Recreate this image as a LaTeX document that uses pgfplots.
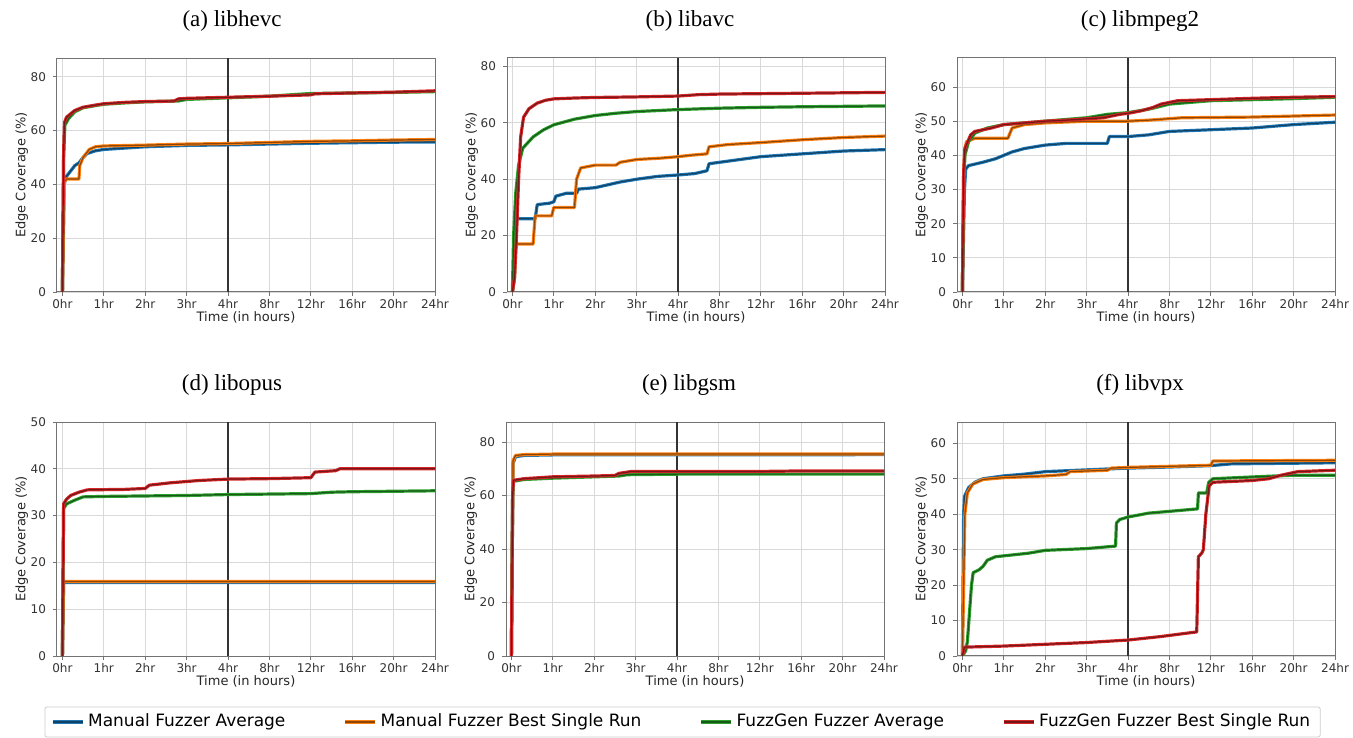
\documentclass[border=0pt]{standalone}
\usepackage{pgfplots}
\pgfplotsset{compat=1.18}
\usepackage{fontspec}
\setmainfont{Liberation Serif}
\newfontfamily\dvs{DejaVu Sans}
\definecolor{cB}{HTML}{1F77B4}
\definecolor{cO}{HTML}{FF7F0E}
\definecolor{cG}{HTML}{2CA02C}
\definecolor{cR}{HTML}{D62728}
\pgfplotsset{
  sB/.style={draw=cB!55!black, line width=0.6pt, line join=round, preaction={draw=cB, line width=1.6pt}},
  sO/.style={draw=cO!55!black, line width=0.6pt, line join=round, preaction={draw=cO, line width=1.6pt}},
  sG/.style={draw=cG!55!black, line width=0.6pt, line join=round, preaction={draw=cG, line width=1.6pt}},
  sR/.style={draw=cR!55!black, line width=0.6pt, line join=round, preaction={draw=cR, line width=1.6pt}},
  sub/.style={
    scale only axis, width=189pt, height=117pt, anchor=south west,
    xmin=-0.13, xmax=9, ymin=0,
    xtick={0,...,9},
    xticklabels={0hr,1hr,2hr,3hr,4hr,8hr,12hr,16hr,20hr,24hr},
    grid=major, major grid style={black!15, line width=0.4pt},
    axis line style={black!55, line width=0.5pt},
    tick style={black!55, line width=0.4pt}, tick align=outside, major tick length=2pt,
    xtick pos=bottom, ytick pos=left,
    tick label style={font=\dvs\fontsize{6}{7}\selectfont, text=black!80},
    xticklabel style={yshift=2pt},
    /pgf/number format/assume math mode=true,
    xlabel={Time (in hours)}, ylabel={Edge Coverage (\%)},
    label style={font=\dvs\fontsize{6.5}{7.5}\selectfont, text=black!85},
    xlabel style={at={(axis description cs:0.5,-0.107)}, anchor=center},
    ylabel style={at={(axis description cs:-0.093,0.5)}, anchor=center},
    title style={font=\fontsize{11.5}{13}\selectfont, at={(axis description cs:0.5,1)}, anchor=center, yshift=12.5pt, xshift=-3pt},
    legend image code/.code={\draw[#1] (0pt,0pt) -- (15pt,0pt);},
  },
}
\newcommand{\fourhr}[1]{\addplot[black!80, line width=0.9pt, forget plot] coordinates {(4,0) (4,#1)};}
\begin{document}
\begin{tikzpicture}
\path[use as bounding box] (0,0) rectangle (676.5pt,369pt);
% (a) libhevc
\begin{axis}[sub, at={(28.5pt,223pt)}, ymax=87, ytick={0,20,40,60,80}, title={(a) libhevc}, title style={xshift=-4pt}]
\fourhr{87}
\addplot[sB] coordinates {(0,0) (0.04,40) (0.1,43) (0.2,45) (0.3,47) (0.4,48) (0.5,50) (0.6,51.5) (0.8,52.5) (1.0,53) (1.5,53.5) (2,54) (3,54.5) (4,54.7) (5,55) (6,55.3) (7,55.5) (8,55.7) (9,55.8)};
\addplot[sO] coordinates {(0,0) (0.05,41) (0.1,42) (0.4,42) (0.42,47) (0.5,50) (0.6,52) (0.65,53) (0.8,54) (1,54.3) (2,54.6) (3,55) (4,55.2) (5,55.6) (6,56) (7,56.2) (8,56.5) (9,56.7)};
\addplot[sG] coordinates {(0,0) (0.03,50) (0.06,62) (0.15,64.5) (0.3,67) (0.5,68.5) (0.8,69.3) (1,69.8) (1.5,70.3) (2,70.7) (2.8,71) (3,71.6) (4,72.2) (5,72.8) (5.5,73.3) (6,73.8) (7,74) (8,74.2) (9,74.5)};
\addplot[sR] coordinates {(0,0) (0.03,52) (0.05,63) (0.1,65) (0.3,67.5) (0.5,68.7) (0.8,69.5) (1,70) (1.5,70.5) (2,70.8) (2.7,71) (2.8,71.8) (3,72) (4,72.4) (5,72.8) (6,73.3) (6.1,73.7) (7,74) (8,74.3) (9,74.8)};
\end{axis}
% (b) libavc
\begin{axis}[sub, at={(253.5pt,223pt)}, ymax=83, ytick={0,20,40,60,80}, title={(b) libavc}]
\fourhr{83}
\addplot[sB] coordinates {(0,0) (0.05,5) (0.1,26) (0.55,26) (0.6,31) (0.9,31.5) (1.0,32) (1.05,34) (1.3,35) (1.55,35) (1.6,36.5) (2,37) (2.3,38) (2.6,39) (3,40) (3.5,41) (4,41.5) (4.4,42) (4.7,43) (4.75,45.5) (5,46) (5.5,47) (6,48) (7,49) (8,50) (9,50.5)};
\addplot[sO] coordinates {(0,0) (0.05,5) (0.09,17) (0.5,17) (0.55,27) (0.95,27) (1.0,30) (1.5,30) (1.55,40) (1.65,44) (2,45) (2.5,45) (2.6,46) (3,47) (3.6,47.5) (4,48) (4.3,48.5) (4.7,49) (4.75,51.5) (5.2,52.3) (6,53) (7,54) (8,54.8) (9,55.3)};
\addplot[sG] coordinates {(0,0) (0.03,20) (0.08,35) (0.15,45) (0.25,51) (0.5,55) (0.75,57.5) (1,59.3) (1.5,61.3) (2,62.6) (2.5,63.4) (3,64) (4,64.7) (5,65.2) (6,65.5) (7,65.7) (9,66)};
\addplot[sR] coordinates {(0,0) (0.05,5) (0.1,20) (0.15,40) (0.2,55) (0.27,62) (0.4,65) (0.6,67) (0.8,68) (1,68.5) (1.5,68.8) (2,69) (3,69.2) (4,69.5) (4.5,70) (5,70.2) (7,70.5) (9,70.8)};
\end{axis}
% (c) libmpeg2
\begin{axis}[sub, at={(478.5pt,223pt)}, ymax=68.5, ytick={0,10,...,60}, title={(c) libmpeg2}]
\fourhr{68.5}
\addplot[sB] coordinates {(0,0) (0.05,30) (0.08,36) (0.15,37) (0.5,38) (0.8,39) (1.0,40) (1.2,41) (1.5,42) (2,43) (2.5,43.5) (3.5,43.5) (3.55,45.5) (4,45.5) (4.5,46) (5,47) (6,47.5) (7,48) (8,49) (9,49.7)};
\addplot[sO] coordinates {(0,0) (0.03,35) (0.06,42) (0.1,44) (0.3,45) (1.1,45) (1.2,48) (1.5,49) (2,49.5) (3,50) (4,50) (4.5,50.3) (5.3,51) (7,51.2) (8,51.5) (9,51.8)};
\addplot[sG] coordinates {(0,0) (0.03,30) (0.06,40) (0.15,44) (0.3,46.5) (0.6,48) (1,49) (1.5,49.5) (2,50) (3,51) (3.5,52) (4,52.5) (4.5,53.5) (5,55) (5.5,55.5) (6,56) (7,56.3) (8,56.6) (9,57)};
\addplot[sR] coordinates {(0,0) (0.03,35) (0.06,42) (0.2,46) (0.3,47) (0.7,48) (1,49) (1.5,49.5) (2,50) (2.5,50.3) (3.4,51) (3.8,52) (4,52.3) (4.3,53) (4.6,54) (4.8,55) (5.2,56) (6,56.3) (7,56.7) (8,57) (9,57.2)};
\end{axis}
% (d) libopus
\begin{axis}[sub, at={(28.5pt,41pt)}, ymax=50, ytick={0,10,...,50}, title={(d) libopus}, title style={xshift=-4pt}]
\fourhr{50}
\addplot[sB] coordinates {(0,0) (0.03,15.7) (9,15.7)};
\addplot[sO] coordinates {(0,0) (0.03,15.9) (9,15.9)};
\addplot[sG] coordinates {(0,0) (0.03,31.5) (0.1,32.5) (0.3,33.3) (0.5,34) (1,34.1) (2,34.2) (3,34.3) (4,34.5) (5,34.6) (6,34.7) (6.5,35) (7,35.1) (9,35.3)};
\addplot[sR] coordinates {(0,0) (0.03,32.5) (0.1,33.5) (0.2,34.3) (0.4,35) (0.6,35.5) (1.5,35.6) (2,35.8) (2.1,36.5) (2.6,37) (3.3,37.5) (4,37.8) (5,37.9) (6,38.1) (6.1,39.3) (6.6,39.6) (6.7,40) (9,40)};
\end{axis}
% (e) libgsm
\begin{axis}[sub, at={(253pt,41pt)}, ymax=87.5, ytick={0,20,40,60,80}, title={(e) libgsm},
  legend columns=4, legend cell align=left,
  legend style={at={(axis description cs:0.467,-0.282)}, anchor=center, draw=black!20, rounded corners=1pt,
    font=\dvs\fontsize{8.5}{10}\selectfont, inner xsep=3pt, inner ysep=1.5pt,
    /tikz/every even column/.append style={column sep=27pt}}]
\fourhr{87.5}
\addplot[sB] coordinates {(0,0) (0.04,72) (0.1,74.5) (0.3,75) (1,75.2) (9,75.3)};
\addlegendentry{Manual Fuzzer Average}
\addplot[sO] coordinates {(0,0) (0.04,73) (0.1,75) (0.3,75.3) (1,75.5) (9,75.5)};
\addlegendentry{Manual Fuzzer Best Single Run}
\addplot[sG] coordinates {(0,0) (0.03,60) (0.05,65.3) (0.3,66) (1,66.5) (2,67) (2.6,67.3) (2.8,67.8) (4,68) (9,68)};
\addlegendentry{FuzzGen Fuzzer Average}
\addplot[sR] coordinates {(0,0) (0.03,60) (0.05,65.7) (0.3,66.3) (1,67) (2,67.3) (2.5,67.5) (2.6,68.3) (2.9,69) (6,69) (7,69.2) (9,69.2)};
\addlegendentry{FuzzGen Fuzzer Best Single Run}
\end{axis}
% (f) libvpx
\begin{axis}[sub, at={(478.5pt,41pt)}, ymax=66, ytick={0,10,...,60}, title={(f) libvpx}]
\fourhr{66}
\addplot[sB] coordinates {(0,0) (0.03,40) (0.05,45) (0.15,47.5) (0.3,49) (0.5,50) (1,50.8) (1.5,51.3) (2,52) (3,52.5) (4,53) (5,53.3) (6,53.7) (6.5,54.2) (9,54.5)};
\addplot[sO] coordinates {(0,0) (0.03,20) (0.06,40) (0.12,46) (0.25,48.5) (0.5,49.8) (1,50.3) (2,50.8) (2.5,51.2) (2.6,52) (3.5,52.4) (3.6,53) (4,53.2) (6,53.8) (6.05,55) (9,55.2)};
\addplot[sG] coordinates {(0,0) (0.08,1.5) (0.12,4) (0.17,12) (0.22,20) (0.26,23.5) (0.4,24.3) (0.5,25.3) (0.6,27) (0.8,28) (1.2,28.5) (1.6,29) (2,29.8) (3,30.3) (3.7,31) (3.72,37.5) (3.8,38.5) (4,39.2) (4.5,40.3) (5,40.8) (5.68,41.5) (5.7,46) (5.9,46) (5.95,49) (6.05,50) (7,50.5) (8,51) (9,51)};
\addplot[sR] coordinates {(0,0) (0.05,2.5) (1,2.8) (2,3.3) (3,3.8) (4,4.5) (4.8,5.5) (5.66,6.8) (5.7,28) (5.78,29) (5.82,30) (5.88,40) (5.96,48) (6.05,49) (7,49.5) (7.4,50) (7.7,51) (8.1,52) (9,52.4)};
\end{axis}
\end{tikzpicture}
\end{document}
